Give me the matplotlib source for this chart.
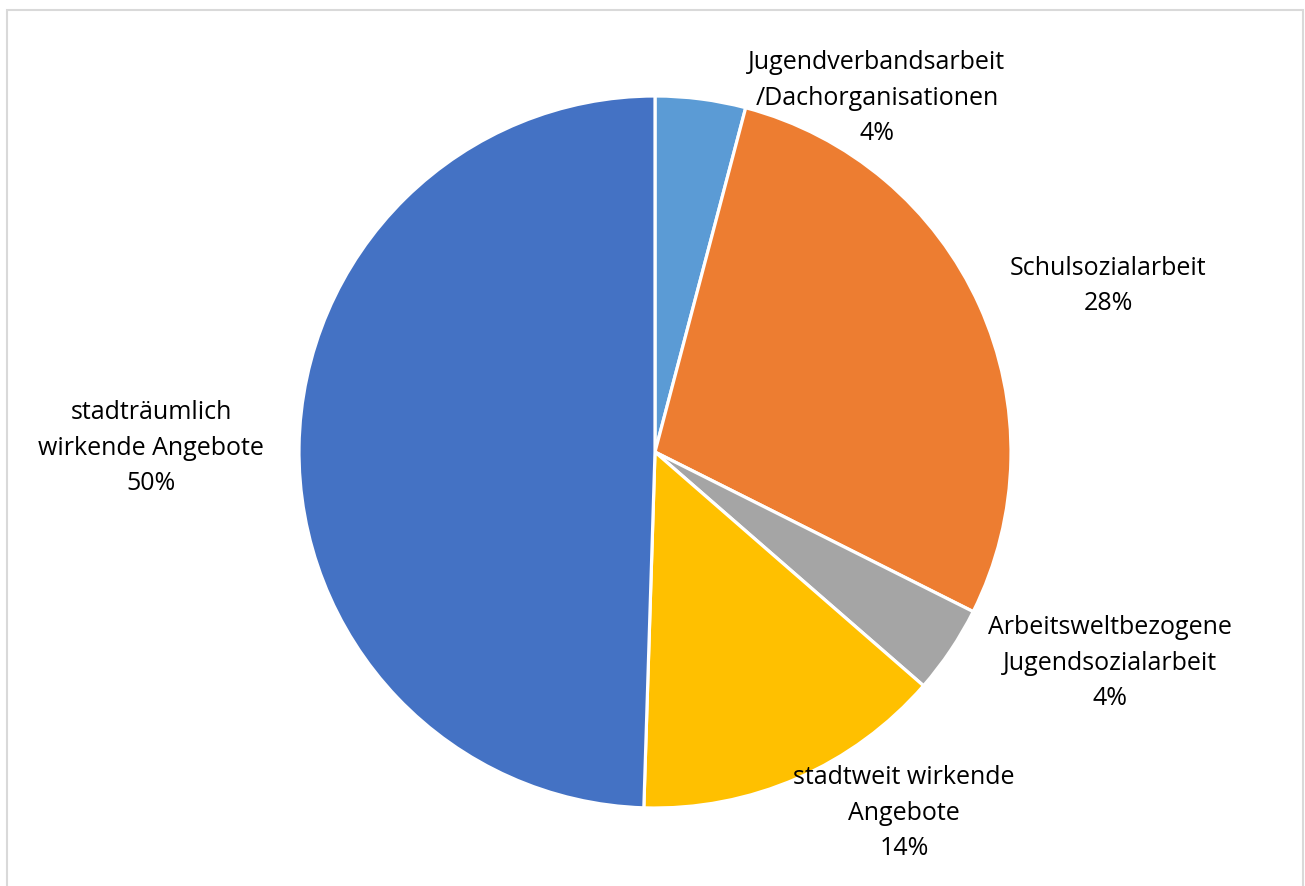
import matplotlib.pyplot as plt
from matplotlib.patches import Rectangle

# Anteile je Angebotsbereich (im Uhrzeigersinn ab 12 Uhr)
bereiche = ['Jugendverbandsarbeit\n/Dachorganisationen',
            'Schulsozialarbeit',
            'Arbeitsweltbezogene\nJugendsozialarbeit',
            'stadtweit wirkende\nAngebote',
            'stadträumlich\nwirkende Angebote']
anteile = [4.1, 28.3, 4.0, 14.1, 49.5]
farben = ['#5B9BD5', '#ED7D31', '#A5A5A5', '#FFC000', '#4472C4']

W, H = 1305, 886
fig = plt.figure(figsize=(W / 100, H / 100), dpi=100)
ax = fig.add_axes([0, 0, 1, 1])

ax.pie(anteile, colors=farben, startangle=90, counterclock=False,
       radius=356, center=(655, H - 452), frame=True,
       wedgeprops=dict(edgecolor='white', linewidth=2.3))
ax.set_xlim(0, W)
ax.set_ylim(0, H)
ax.set_aspect('equal')
ax.axis('off')

# Beschriftungen (Pixelpositionen, Mitte des Textblocks)
pos = [(877, 98), (1108, 286), (1110, 663), (904, 813), (151, 448)]
for name, wert, (x, y) in zip(bereiche, anteile, pos):
    ax.text(x, H - y, f'{name}\n{wert:.0f}%', ha='center', va='center',
            fontsize=18, family=['Open Sans', 'DejaVu Sans'],
            linespacing=1.55, color='#000000')

# Diagrammrahmen
ax.add_patch(Rectangle((6.5, -10), 1296, H - 9.5 + 10, fill=False,
                       edgecolor='#D9D9D9', linewidth=1.5))

fig.savefig('out.png', dpi=100)
